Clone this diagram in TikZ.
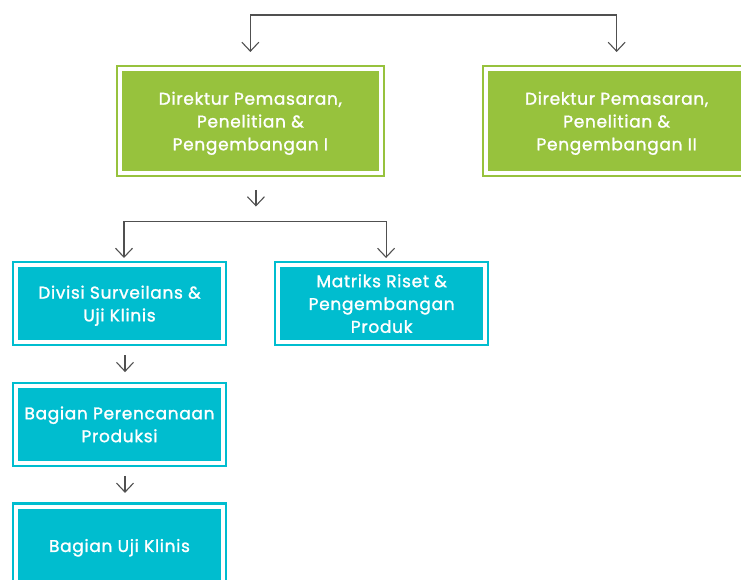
\documentclass[tikz,border=0pt]{standalone}
\usepackage{fontspec}
\setmainfont{Poppins}
\newfontfamily\boxfont{Poppins}[FakeBold=1.4, LetterSpace=4]
\usetikzlibrary{positioning, arrows.meta}
\definecolor{org-green}{HTML}{97C23D}
\definecolor{org-cyan}{HTML}{00BDCF}
\definecolor{org-line}{HTML}{505050}

\begin{document}
\begin{tikzpicture}[x=1pt, y=1pt,
    box/.style={fill=#1, draw=#1, line width=2.2pt, double=white, double distance=4pt,
        inner sep=0pt, outer sep=0pt, align=center, text=white, text depth=-1.5pt,
        font=\boxfont\fontsize{17}{22.8}\selectfont},
    link/.style={draw=org-line, line width=1.1pt, -{Straight Barb[length=9pt, width=17pt]}},
]
    \useasboundingbox (0, 0) rectangle (741, -580);
    \clip (0, 0) rectangle (741, -580);

    % Directors
    \node[box=org-green, minimum width=261.3pt, minimum height=104pt] (dir1) at (250.35, -121)
        {Direktur Pemasaran,\\Penelitian \&\\Pengembangan I};
    \node[box=org-green, minimum width=261.3pt, minimum height=104pt] (dir2) at (616.65, -121)
        {Direktur Pemasaran,\\Penelitian \&\\Pengembangan II};

    % Divisions
    \node[box=org-cyan, minimum width=207pt, minimum height=77pt] (div) at (119.5, -303.5)
        {Divisi Surveilans \&\\Uji Klinis};
    \node[box=org-cyan, minimum width=207pt, minimum height=77pt] (mat) at (381.65, -303.5)
        {Matriks Riset \&\\Pengembangan\\Produk};
    \node[box=org-cyan, minimum width=207pt, minimum height=77pt] (plan) at (119.5, -424.3)
        {Bagian Perencanaan\\Produksi};
    \node[box=org-cyan, minimum width=207pt, minimum height=78pt] (uji) at (119.5, -545.5)
        {Bagian Uji Klinis};

    % Top connector
    \coordinate (top) at (433, -15);
    \draw[link, shorten >=17pt] (top) -| (dir1.north);
    \draw[link, shorten >=17pt] (top) -| (dir2.north);

    % Branch below Direktur I
    \draw[link] ([xshift=5.6pt]dir1.south) ++(0, -17) -- ++(0, -16.5);
    \coordinate (split) at (255, -221.5);
    \draw[link, shorten >=7pt] (split) -| ([xshift=4.5pt]div.north);
    \draw[link, shorten >=7pt] (split) -| ([xshift=4.4pt]mat.north);

    % Chain
    \draw[link, shorten <=13pt, shorten >=13.7pt] ([xshift=5.5pt]div.south) -- ([xshift=5.5pt]plan.north);
    \draw[link, shorten <=13pt, shorten >=13.6pt] ([xshift=5.5pt]plan.south) -- ([xshift=5.5pt]uji.north);
\end{tikzpicture}
\end{document}
